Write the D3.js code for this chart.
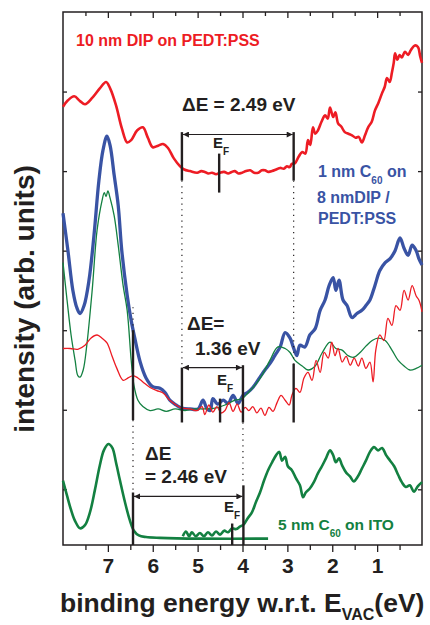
<!DOCTYPE html>
<html>
<head>
<meta charset="utf-8">
<script src="https://cdn.jsdelivr.net/npm/d3@7"></script>
<style>
  body { margin: 0; background: #fff; }
  text { font-family: "Liberation Sans", Arial, sans-serif; font-weight: bold; }
</style>
</head>
<body>
<div id="chart"></div>
<script>
// spectra: [binding energy (eV), intensity (arb. units)]
const dipTop = [[8.00,4.81],[7.89,4.89],[7.75,4.94],[7.62,4.88],[7.51,4.84],[7.35,4.92],[7.18,5.04],[7.04,5.12],[6.95,5.04],
  [6.82,4.83],[6.69,4.54],[6.57,4.36],[6.48,4.39],[6.35,4.51],[6.22,4.55],[6.11,4.42],[6.00,4.30],[5.88,4.32],[5.77,4.34],
  [5.66,4.29],[5.53,4.16],[5.39,4.06],[5.30,4.02],[5.17,4.00],[5.01,3.98],[4.92,4.00],[4.84,3.99],[4.76,3.97],[4.68,3.98],
  [4.59,3.96],[4.50,3.98],[4.41,3.99],[4.32,3.97],[4.24,3.99],[4.17,4.00],[4.09,3.97],[4.01,3.98],[3.92,4.00],[3.83,4.01],
  [3.74,3.98],[3.65,3.98],[3.57,4.01],[3.50,4.01],[3.42,3.99],[3.34,4.00],[3.25,4.02],[3.16,4.04],[3.08,4.03],[3.01,4.06],
  [2.95,4.05],[2.90,4.09],[2.83,4.10],[2.75,4.18],[2.67,4.24],[2.60,4.22],[2.54,4.39],[2.49,4.33],[2.43,4.55],[2.38,4.47],
  [2.32,4.51],[2.24,4.62],[2.16,4.70],[2.10,4.66],[2.05,4.80],[1.98,4.68],[1.93,4.74],[1.87,4.60],[1.80,4.56],[1.72,4.49],
  [1.64,4.47],[1.56,4.45],[1.48,4.42],[1.41,4.43],[1.34,4.36],[1.27,4.45],[1.20,4.55],[1.12,4.62],[1.05,4.76],[0.97,4.86],
  [0.89,4.98],[0.83,5.06],[0.78,5.17],[0.72,5.12],[0.67,5.24],[0.63,5.36],[0.60,5.48],[0.55,5.40],[0.50,5.46],[0.45,5.43],
  [0.38,5.50],[0.31,5.46],[0.25,5.52],[0.16,5.58],[0.09,5.56],[0.04,5.44],[0.00,5.36]];

const c60onDip = [[8.00,3.47],[7.89,3.00],[7.78,2.50],[7.69,2.28],[7.62,2.21],[7.53,2.31],[7.42,2.63],[7.31,3.19],[7.20,3.88],
  [7.11,4.26],[7.02,4.44],[6.95,4.32],[6.86,3.95],[6.77,3.57],[6.69,3.00],[6.57,2.44],[6.48,2.12],[6.40,1.90],[6.28,1.60],
  [6.15,1.40],[6.00,1.29],[5.84,1.27],[5.73,1.22],[5.62,1.12],[5.48,1.06],[5.35,1.02],[5.17,1.01],[4.99,1.01],[4.88,1.12],
  [4.79,1.01],[4.72,0.99],[4.66,1.14],[4.55,1.07],[4.43,1.12],[4.32,1.08],[4.21,1.18],[4.10,1.08],[3.99,1.18],[3.88,1.22],
  [3.77,1.28],[3.61,1.41],[3.50,1.50],[3.39,1.58],[3.28,1.68],[3.16,1.79],[3.05,1.97],[2.94,1.90],[2.87,1.79],[2.79,1.68],
  [2.72,1.81],[2.61,1.79],[2.50,1.94],[2.38,2.02],[2.27,2.25],[2.16,2.38],[2.07,2.56],[1.98,2.66],[1.92,2.50],[1.85,2.63],
  [1.76,2.38],[1.67,2.31],[1.56,2.16],[1.45,2.21],[1.34,2.25],[1.25,2.31],[1.16,2.38],[1.05,2.56],[0.94,2.75],[0.82,2.85],
  [0.71,2.90],[0.60,3.00],[0.49,3.16],[0.40,3.03],[0.31,2.94],[0.22,3.07],[0.13,3.00],[0.07,2.90],[0.00,2.82]];

const c60Scaled = [[8.00,2.85],[7.91,2.38],[7.82,1.94],[7.73,1.62],[7.67,1.43],[7.62,1.41],[7.55,1.50],[7.47,1.81],[7.35,2.50],
  [7.24,3.26],[7.13,3.63],[7.08,3.73],[7.04,3.68],[7.00,3.75],[6.95,3.66],[6.86,3.44],[6.77,3.07],[6.66,2.56],[6.57,2.25],
  [6.48,1.62],[6.42,1.31],[6.33,1.12],[6.22,1.04],[6.06,0.99],[5.88,1.01],[5.70,0.98],[5.50,1.01],[5.28,0.99],[5.06,1.01],
  [4.84,1.01],[4.61,1.02],[4.39,1.06],[4.17,1.12],[4.01,1.14],[3.88,1.21],[3.72,1.31],[3.57,1.43],[3.39,1.62],[3.21,1.79],
  [3.05,1.77],[2.94,1.72],[2.83,1.62],[2.67,1.55],[2.54,1.50],[2.38,1.55],[2.23,1.71],[2.05,1.85],[1.92,1.77],[1.78,1.75],
  [1.65,1.68],[1.52,1.66],[1.38,1.72],[1.25,1.80],[1.11,1.87],[0.98,1.90],[0.82,1.87],[0.67,1.75],[0.53,1.62],[0.40,1.55],
  [0.27,1.50],[0.13,1.52],[0.00,1.56]];

const dipScaled = [[8.00,1.77],[7.84,1.77],[7.67,1.76],[7.51,1.81],[7.38,1.90],[7.24,1.94],[7.13,1.90],[7.02,1.84],[6.91,1.68],
  [6.80,1.52],[6.66,1.37],[6.55,1.40],[6.44,1.43],[6.33,1.40],[6.22,1.35],[6.06,1.28],[5.91,1.24],[5.77,1.21],[5.62,1.12],
  [5.48,1.06],[5.35,1.02],[5.17,1.01],[5.01,0.99],[4.90,1.04],[4.84,0.94],[4.75,1.06],[4.66,0.97],[4.57,1.04],[4.48,0.96],
  [4.39,0.99],[4.30,1.09],[4.21,0.98],[4.12,1.07],[4.03,0.97],[3.94,1.03],[3.86,0.99],[3.77,1.04],[3.68,0.96],[3.59,1.02],
  [3.50,0.93],[3.41,1.03],[3.32,0.98],[3.23,1.09],[3.14,1.18],[3.05,1.12],[2.96,1.06],[2.90,1.18],[2.81,1.27],[2.72,1.22],
  [2.63,1.40],[2.54,1.47],[2.45,1.37],[2.36,1.62],[2.27,1.47],[2.18,1.72],[2.09,1.65],[2.01,1.85],[1.94,1.68],[1.87,1.77],
  [1.78,1.60],[1.69,1.67],[1.60,1.56],[1.51,1.65],[1.42,1.55],[1.34,1.65],[1.25,1.52],[1.16,1.60],[1.09,1.35],[1.03,1.75],
  [0.94,1.94],[0.85,1.87],[0.76,2.15],[0.67,2.06],[0.58,2.31],[0.49,2.25],[0.40,2.50],[0.31,2.38],[0.22,2.56],[0.13,2.43],
  [0.07,2.38],[0.00,2.23]];

const c60ItoFit = [[8.00,0.11],[7.91,-0.08],[7.82,-0.26],[7.73,-0.40],[7.62,-0.49],[7.51,-0.45],[7.40,-0.29],[7.29,-0.01],
  [7.18,0.30],[7.09,0.49],[6.99,0.57],[6.90,0.52],[6.82,0.34],[6.73,0.11],[6.62,-0.16],[6.51,-0.39],[6.42,-0.52],[6.31,-0.58],
  [6.15,-0.60],[5.84,-0.61],[4.95,-0.62],[3.43,-0.62]];

const c60Ito = [[5.33,-0.59],[5.26,-0.53],[5.19,-0.59],[5.13,-0.54],[5.04,-0.59],[4.95,-0.55],[4.86,-0.59],[4.77,-0.54],
  [4.68,-0.58],[4.59,-0.53],[4.50,-0.57],[4.41,-0.52],[4.32,-0.54],[4.23,-0.49],[4.14,-0.50],[4.06,-0.47],[3.97,-0.44],
  [3.88,-0.36],[3.79,-0.29],[3.70,-0.16],[3.61,-0.04],[3.52,0.11],[3.43,0.24],[3.34,0.34],[3.25,0.43],[3.18,0.47],[3.12,0.36],
  [3.05,0.41],[2.99,0.29],[2.90,0.24],[2.81,0.14],[2.72,0.05],[2.65,-0.10],[2.59,-0.04],[2.50,0.01],[2.41,0.09],[2.32,0.20],
  [2.23,0.29],[2.14,0.39],[2.05,0.49],[1.98,0.43],[1.92,0.34],[1.85,0.39],[1.78,0.30],[1.69,0.21],[1.60,0.16],[1.52,0.10],
  [1.43,0.16],[1.34,0.26],[1.25,0.36],[1.16,0.47],[1.07,0.53],[0.98,0.49],[0.89,0.52],[0.80,0.43],[0.71,0.36],[0.62,0.29],
  [0.53,0.18],[0.45,0.09],[0.36,0.03],[0.27,0.05],[0.18,-0.03],[0.09,0.04],[0.00,0.09]];

// axis ticks
const xTicks = [7, 6, 5, 4, 3, 2, 1];
const xMinorTicks = [7.5, 6.5, 5.5, 4.5, 3.5, 2.5, 1.5, 0.5];
const yTicks = [0, 1, 2, 3, 4, 5];

// energy gaps: [from eV, to eV, arrow level]
const gapArrows = [[5.35, 2.86, 4.46], [5.35, 3.99, 1.53], [6.44, 3.98, -0.09]];
// onset lines: [eV, top, bottom]
const edgeLines = [[5.35, 4.49, 3.88], [2.86, 4.49, 3.88], [5.35, 1.53, 0.84], [3.99, 1.56, 0.84],
  [2.86, 1.58, 0.84], [6.44, 2.00, 0.87], [6.44, -0.04, -0.70], [3.98, 0.05, -0.70]];
// Fermi level marks: [eV, top, bottom]
const fermiLines = [[4.52, 4.22, 3.73], [4.50, 1.14, 0.84], [4.23, -0.43, -0.70]];
// dotted guides: [eV, top, bottom]
const dotLines = [[5.35, 3.88, 1.53], [2.86, 3.88, 1.58], [6.44, 2.29, 2.00], [6.44, 0.87, -0.04], [3.99, 0.84, 0.05]];

const red = "#ed1c24", blue = "#3953a4", green = "#138041", ink = "#231f20";

const margin = {top: 12, right: 8, bottom: 80, left: 63},
    width = 430 - margin.left - margin.right,
    height = 625 - margin.top - margin.bottom;

const svgRoot = d3.select("#chart")
  .append("svg")
    .attr("width", 430)
    .attr("height", 625);

const svg = svgRoot.append("g")
    .attr("transform", `translate(${margin.left},${margin.top})`);

const x = d3.scaleLinear().domain([8, 0]).range([0, width]);
const y = d3.scaleLinear().domain([-0.7, 6]).range([height, 0]);

// arrow head
svgRoot.append("defs").append("marker")
    .attr("id", "head")
    .attr("viewBox", "0 0 10 10")
    .attr("refX", 10).attr("refY", 5)
    .attr("markerUnits", "userSpaceOnUse")
    .attr("markerWidth", 9).attr("markerHeight", 6)
    .attr("orient", "auto-start-reverse")
  .append("path")
    .attr("d", "M0,0L10,5L0,10z")
    .attr("fill", ink);

// axes (ticks only, frame drawn separately)
function styleAxis(g) {
  g.select(".domain").remove();
  g.selectAll("line").attr("stroke", ink).attr("stroke-width", 1.3);
  g.selectAll("text").attr("fill", ink).style("font-size", "21px");
}
svg.append("g").attr("transform", `translate(0,${height})`)
  .call(d3.axisBottom(x).tickValues(xTicks).tickSize(7).tickPadding(6).tickFormat(d3.format("d")))
  .call(styleAxis);
svg.append("g").attr("transform", `translate(0,${height})`)
  .call(d3.axisBottom(x).tickValues(xMinorTicks).tickSize(5).tickFormat(""))
  .call(styleAxis);
svg.append("g")
  .call(d3.axisTop(x).tickValues(xTicks).tickSize(-6).tickFormat(""))
  .call(styleAxis);
svg.append("g")
  .call(d3.axisTop(x).tickValues(xMinorTicks).tickSize(-4).tickFormat(""))
  .call(styleAxis);
svg.append("g")
  .call(d3.axisLeft(y).tickValues(yTicks).tickSize(-4).tickFormat(""))
  .call(styleAxis);
svg.append("g").attr("transform", `translate(${width},0)`)
  .call(d3.axisRight(y).tickValues(yTicks).tickSize(-4).tickFormat(""))
  .call(styleAxis);

svg.append("rect")
    .attr("width", width).attr("height", height)
    .attr("fill", "none").attr("stroke", ink).attr("stroke-width", 1.5);

// spectra
const line = d3.line().x(d => x(d[0])).y(d => y(d[1])).curve(d3.curveCatmullRom.alpha(0.5));
const series = [
  {data: dipTop, color: red, w: 2.6},
  {data: c60onDip, color: blue, w: 3.3},
  {data: c60Scaled, color: green, w: 1.3},
  {data: dipScaled, color: red, w: 1.3},
  {data: c60ItoFit, color: green, w: 2.6},
  {data: c60Ito, color: green, w: 2.6}
];
svg.append("g")
  .selectAll("path")
  .data(series)
  .join("path")
    .attr("fill", "none")
    .attr("stroke", d => d.color)
    .attr("stroke-width", d => d.w)
    .attr("stroke-linejoin", "round")
    .attr("d", d => line(d.data));

// guides
svg.append("g").selectAll("line")
  .data(dotLines)
  .join("line")
    .attr("x1", d => x(d[0])).attr("x2", d => x(d[0]))
    .attr("y1", d => y(d[1])).attr("y2", d => y(d[2]))
    .attr("stroke", ink).attr("stroke-width", 1.2)
    .attr("stroke-dasharray", "1.2,4.5");

svg.append("g").selectAll("line")
  .data(edgeLines.concat(fermiLines))
  .join("line")
    .attr("x1", d => x(d[0])).attr("x2", d => x(d[0]))
    .attr("y1", d => y(d[1])).attr("y2", d => y(d[2]))
    .attr("stroke", ink).attr("stroke-width", 2.4);

svg.append("g").selectAll("line")
  .data(gapArrows)
  .join("line")
    .attr("x1", d => x(d[0]) + 1).attr("x2", d => x(d[1]) - 1)
    .attr("y1", d => y(d[2])).attr("y2", d => y(d[2]))
    .attr("stroke", ink).attr("stroke-width", 1.2)
    .attr("marker-start", "url(#head)")
    .attr("marker-end", "url(#head)");

// text labels
function label(txt, px, py, size, color) {
  return svg.append("text").attr("x", px).attr("y", py)
    .attr("fill", color).style("font-size", size + "px").text(txt);
}
function subLabel(main, sub, rest, px, py, size, color) {
  const t = svg.append("text").attr("x", px).attr("y", py)
    .attr("fill", color).style("font-size", size + "px");
  t.append("tspan").text(main);
  t.append("tspan").attr("dy", 7).style("font-size", "10px").text(sub);
  if (rest) t.append("tspan").attr("dy", -7).text(rest);
}

label("10 nm DIP on PEDT:PSS", 13, 34, 16, red);
label("ΔE = 2.49 eV", 119, 99, 19, ink);
subLabel("E", "F", null, 150, 136, 15, ink);

subLabel("1 nm C", "60", " on", 255, 165, 16, blue);
label("8 nmDIP /", 254, 191, 16, blue);
label("PEDT:PSS", 255, 212, 16, blue);

label("ΔE=", 124, 318, 19, ink);
label("1.36 eV", 132, 343, 19, ink);
subLabel("E", "F", null, 154, 373, 15, ink);

label("ΔE", 82, 448, 19, ink);
label("= 2.46 eV", 82, 471, 19, ink);
subLabel("E", "F", null, 161, 500, 15, ink);

subLabel("5 nm C", "60", " on ITO", 215, 518, 15.5, green);

// axis titles
svgRoot.append("text")
    .attr("transform", "translate(34,299) rotate(-90)")
    .attr("text-anchor", "middle")
    .attr("fill", ink)
    .style("font-size", "28px")
    .text("intensity (arb. units)");

const xt = svgRoot.append("text").attr("x", 60).attr("y", 612)
    .attr("fill", ink).style("font-size", "26.5px");
xt.append("tspan").text("binding energy w.r.t. E");
xt.append("tspan").attr("dy", 8).style("font-size", "16px").text("VAC");
xt.append("tspan").attr("dy", -8).text("(eV)");
</script>
</body>
</html>
